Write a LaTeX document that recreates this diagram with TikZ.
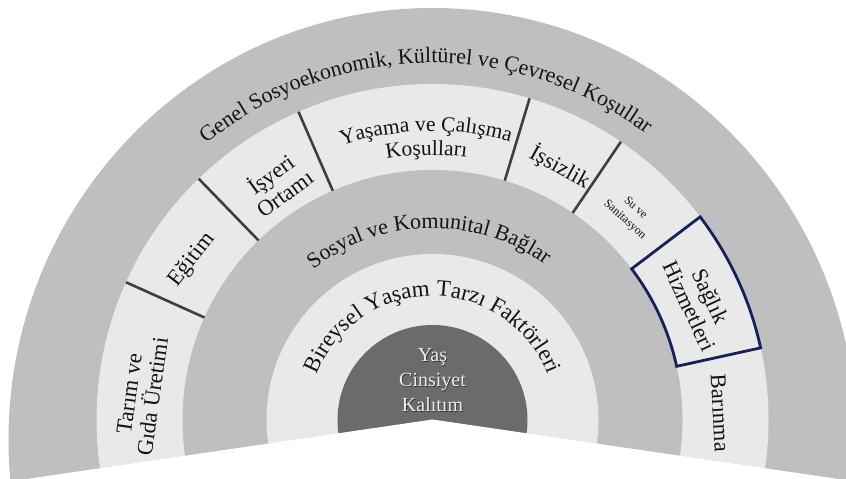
\documentclass[tikz,border=0pt]{standalone}
\usepackage{fontspec}
\setmainfont{Liberation Serif}
\usetikzlibrary{decorations.text}
\definecolor{ringgray}{HTML}{BFBFBF}
\definecolor{ringlight}{HTML}{E9E9E9}
\definecolor{coredark}{HTML}{6B6B6B}
\definecolor{divline}{HTML}{3F3F3F}
\definecolor{boxnavy}{HTML}{16205A}
\definecolor{coretext}{HTML}{EDEDED}
\definecolor{labeltext}{HTML}{141414}
\tikzset{
  divider/.style={draw=divline, line width=2.6pt},
  seglabel/.style={font=\fontsize{22.5}{23.5}\selectfont, align=center, inner sep=0pt, text=labeltext},
  smalllabel/.style={font=\fontsize{12}{16}\selectfont, align=center, inner sep=0pt, text=labeltext},
  corelabel/.style={font=\fontsize{20}{25}\selectfont, align=center, inner sep=0pt},
  arclabel/.style={decorate, decoration={text along path, text align=center}},
  hbox/.style={draw=boxnavy, line width=2.8pt, line join=miter},
}
\begin{document}
\begin{tikzpicture}[x=1pt,y=1pt]
\useasboundingbox (0,0) rectangle (846,479);
\coordinate (O) at (432.5,59);
\coordinate (Oout) at (432.5,39);
\begin{scope}
  \clip (0,0) rectangle (846,479);
  \fill[ringgray] (Oout) ellipse[x radius=424, y radius=432];
  \fill[ringlight] (O) circle[radius=336];
  \fill[ringgray] (O) circle[radius=250];
  \fill[ringlight] (O) circle[radius=166];
  \fill[coredark] (O) circle[radius=95];
  \fill[white] (-10,-5.4) -- (432.5,59.5) -- (856,-2.6) -- (856,-20) -- (-10,-20) -- cycle;
\end{scope}
\begin{scope}[shift={(O)}]
  \foreach \a in {155.8,134.1,113.5,73.2,55.9}
    \draw[divider] (\a:250) -- (\a:336);
  \draw[hbox] (12.4:250) arc[start angle=12.4, end angle=37.2, radius=250]
    -- (37.2:336) arc[start angle=37.2, end angle=12.4, radius=336] -- cycle;
\end{scope}
% curved labels
\path[arclabel, decoration={text={|\fontsize{22}{22}\selectfont\color{labeltext}|Genel Sosyoekonomik{,} Kültürel ve Çevresel Koşullar}}]
  ([shift={(161.3:357)}]O) arc[start angle=161.3, end angle=21.3, radius=357];
\path[arclabel, decoration={text={|\fontsize{21.5}{21.5}\selectfont\color{labeltext}|Yaşama ve Çalışma}}]
  ([shift={(131.3:289)}]O) arc[start angle=131.3, end angle=51.3, radius=289];
\path[arclabel, decoration={text={|\fontsize{21.5}{21.5}\selectfont\color{labeltext}|Koşulları}}]
  ([shift={(131.3:265)}]O) arc[start angle=131.3, end angle=51.3, radius=265];
\path[arclabel, decoration={text={|\fontsize{22}{22}\selectfont\color{labeltext}|Sosyal ve Komunital Bağlar}}]
  ([shift={(171.2:192)}]O) arc[start angle=171.2, end angle=11.2, radius=192];
\path[arclabel, decoration={text={|\fontsize{23}{23}\selectfont\color{labeltext}|Bireysel Yaşam Tarzı Faktörleri}}]
  ([shift={(175:124)}]O) arc[start angle=175, end angle=5, radius=124];
% segment labels
\node[seglabel, rotate=82] (tarim) at (141,84) {Tarım ve\\Gıda Üretimi};
\node[seglabel, rotate=52] (egitim) at (192,219) {Eğitim};
\node[seglabel, rotate=36] (isyeri) at (277,296) {İşyeri\\Ortamı};
\node[seglabel, rotate=-29] (issizlik) at (560,312) {İşsizlik};
\node[smalllabel, rotate=-42] (su) at (630,265) {Su ve\\Sanitasyon};
\node[seglabel, rotate=-65] (saglik) at (700,178) {Sağlık\\Hizmetleri};
\node[seglabel, rotate=-87] (barinma) at (720,66) {Barınma};
% core
\node[corelabel, text=black, opacity=0.55] (coreshadow) at (433.3,98.2) {Yaş\\Cinsiyet\\Kalıtım};
\node[corelabel, text=coretext] (core) at (432.5,99) {Yaş\\Cinsiyet\\Kalıtım};
\end{tikzpicture}
\end{document}
